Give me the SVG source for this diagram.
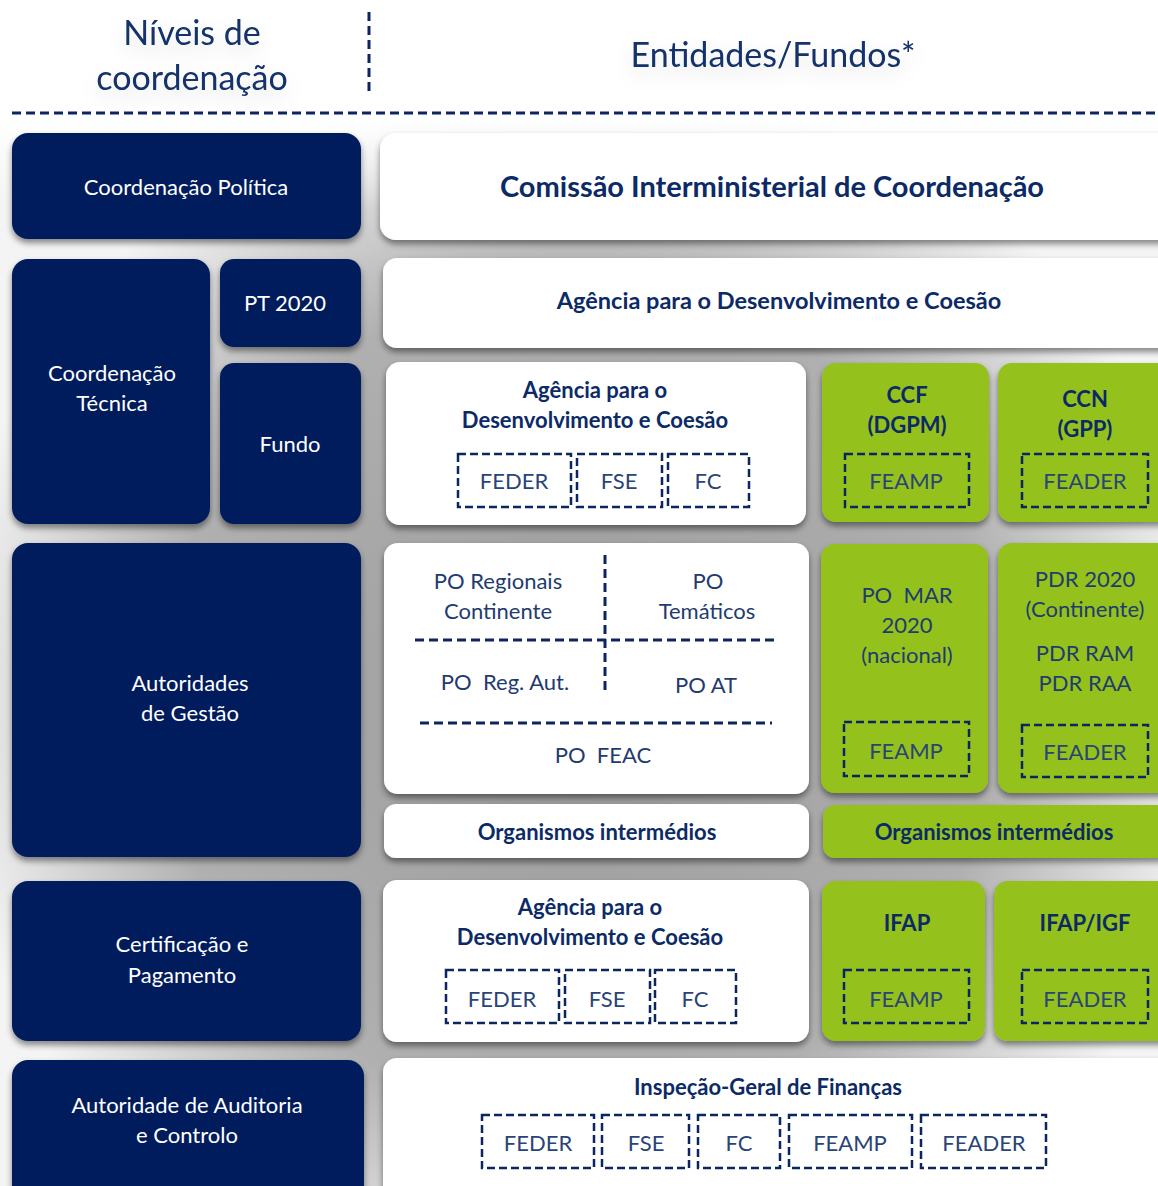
<svg xmlns="http://www.w3.org/2000/svg" width="1158" height="1186" viewBox="0 0 1158 1186">
<defs>
<radialGradient id="bg" cx="580" cy="700" r="640" gradientUnits="userSpaceOnUse">
<stop offset="0" stop-color="#9a9a9a"/>
<stop offset="0.65" stop-color="#b0b0b0"/>
<stop offset="1" stop-color="#f4f4f4"/>
</radialGradient>
<linearGradient id="fade" x1="0" y1="0" x2="0" y2="1">
<stop offset="0" stop-color="#ffffff" stop-opacity="1"/>
<stop offset="1" stop-color="#ffffff" stop-opacity="0"/>
</linearGradient>
<filter id="sh" x="-10%" y="-10%" width="120%" height="130%">
<feDropShadow dx="0" dy="4" stdDeviation="3" flood-color="#000" flood-opacity="0.45"/>
</filter>
<filter id="glow" x="-20%" y="-40%" width="140%" height="200%">
<feDropShadow dx="0" dy="8" stdDeviation="10" flood-color="#000" flood-opacity="0.12"/>
</filter>
<style>
.navy{fill:#001f5c;filter:url(#sh)}
.white{fill:#ffffff;filter:url(#sh)}
.green{fill:#94c11f;filter:url(#sh)}
.dash{fill:none;stroke:#0a2560;stroke-width:2.5;stroke-dasharray:8 4}
.dl{stroke:#0a2560;stroke-width:3;stroke-dasharray:9 5}
text{font-family:Lato,"Open Sans","Liberation Sans",sans-serif;text-anchor:middle;white-space:pre}
.wt{fill:#ffffff;font-size:22px}
.bt{fill:#0b2a66;font-size:22px;font-weight:bold}
.nt{fill:#1f3b70;font-size:22px}
.ft{fill:#2a4478;font-size:22px}
.hd{fill:#12306a;font-size:34px;filter:url(#glow)}
</style>
</defs>
<rect width="1158" height="1186" fill="#ffffff"/>
<rect x="0" y="118" width="1158" height="1068" fill="url(#bg)"/>
<rect x="0" y="118" width="1158" height="90" fill="url(#fade)"/>

<g id="header">
<text class="hd" x="192" y="45">Níveis de</text>
<text class="hd" x="192" y="90">coordenação</text>
<line class="dl" x1="369" y1="12" x2="369" y2="92"/>
<text class="hd" x="773" y="67">Entidades/Fundos*</text>
<line class="dl" x1="12" y1="113" x2="1158" y2="113"/>
</g>

<g id="coord-politica"><rect class="navy" x="12" y="133" width="349" height="106" rx="16"/><text class="wt" x="186" y="195">Coordenação Política</text></g>
<g id="comissao"><rect class="white" x="380" y="133" width="800" height="107" rx="16"/><text class="bt" x="772" y="197" style="font-size:29px">Comissão Interministerial de Coordenação</text></g>

<g id="coord-tecnica"><rect class="navy" x="12" y="259" width="198" height="265" rx="16"/><text class="wt" x="112" y="381">Coordenação</text><text class="wt" x="112" y="411">Técnica</text></g>
<g id="pt2020"><rect class="navy" x="220" y="259" width="141" height="88" rx="14"/><text class="wt" x="285" y="311">PT 2020</text></g>
<g id="fundo"><rect class="navy" x="220" y="363" width="141" height="161" rx="14"/><text class="wt" x="290" y="452">Fundo</text></g>
<g id="adc-top"><rect class="white" x="383" y="258" width="800" height="90" rx="14"/><text class="bt" x="779" y="309" style="font-size:23.5px">Agência para o Desenvolvimento e Coesão</text></g>

<g id="adc-fundo"><rect class="white" x="386" y="362" width="420" height="163" rx="14"/>
<text class="bt" x="595" y="398">Agência para o</text><text class="bt" x="595" y="428">Desenvolvimento e Coesão</text>
<rect class="dash" x="458" y="454" width="113" height="53"/><text class="ft" x="514" y="489">FEDER</text>
<rect class="dash" x="577" y="454" width="85" height="53"/><text class="ft" x="619" y="489">FSE</text>
<rect class="dash" x="668" y="454" width="81" height="53"/><text class="ft" x="708" y="489">FC</text></g>
<g id="ccf"><rect class="green" x="822" y="363" width="167" height="159" rx="14"/>
<text class="bt" x="907" y="403">CCF</text><text class="bt" x="907" y="433">(DGPM)</text>
<rect class="dash" x="845" y="454" width="124" height="53"/><text class="ft" x="906" y="489">FEAMP</text></g>
<g id="ccn"><rect class="green" x="998" y="363" width="180" height="159" rx="14"/>
<text class="bt" x="1085" y="407">CCN</text><text class="bt" x="1085" y="437">(GPP)</text>
<rect class="dash" x="1022" y="454" width="126" height="53"/><text class="ft" x="1085" y="489">FEADER</text></g>

<g id="aut-gestao"><rect class="navy" x="12" y="543" width="349" height="314" rx="16"/><text class="wt" x="190" y="691">Autoridades</text><text class="wt" x="190" y="721">de Gestão</text></g>
<g id="po"><rect class="white" x="384" y="543" width="425" height="251" rx="14"/>
<text class="nt" x="498" y="589">PO Regionais</text><text class="nt" x="498" y="619">Continente</text>
<text class="nt" x="708" y="589">PO</text><text class="nt" x="707" y="619">Temáticos</text>
<line class="dl" x1="605" y1="555" x2="605" y2="693"/>
<line class="dl" x1="415" y1="640" x2="775" y2="640"/>
<text class="nt" x="505" y="690">PO  Reg. Aut.</text><text class="nt" x="706" y="693">PO AT</text>
<line class="dl" x1="420" y1="723" x2="772" y2="723"/>
<text class="nt" x="603" y="763">PO  FEAC</text></g>
<g id="oi-white"><rect class="white" x="384" y="804" width="425" height="54" rx="12"/><text class="bt" x="597" y="840">Organismos intermédios</text></g>
<g id="pomar"><rect class="green" x="821" y="544" width="167" height="249" rx="14"/>
<text class="nt" x="907" y="603">PO  MAR</text><text class="nt" x="907" y="633">2020</text><text class="nt" x="907" y="663">(nacional)</text>
<rect class="dash" x="844" y="722" width="125" height="54"/><text class="ft" x="906" y="759">FEAMP</text></g>
<g id="pdr"><rect class="green" x="998" y="543" width="180" height="250" rx="14"/>
<text class="nt" x="1085" y="587">PDR 2020</text><text class="nt" x="1085" y="617">(Continente)</text>
<text class="nt" x="1085" y="661">PDR RAM</text><text class="nt" x="1085" y="691">PDR RAA</text>
<rect class="dash" x="1022" y="725" width="126" height="52"/><text class="ft" x="1085" y="760">FEADER</text></g>
<g id="oi-green"><rect class="green" x="823" y="805" width="355" height="53" rx="12"/><text class="bt" x="994" y="840">Organismos intermédios</text></g>

<g id="cert"><rect class="navy" x="12" y="881" width="349" height="160" rx="16"/><text class="wt" x="182" y="952">Certificação e</text><text class="wt" x="182" y="983">Pagamento</text></g>
<g id="adc-cert"><rect class="white" x="383" y="880" width="426" height="162" rx="14"/>
<text class="bt" x="590" y="915">Agência para o</text><text class="bt" x="590" y="945">Desenvolvimento e Coesão</text>
<rect class="dash" x="446" y="970" width="113" height="53"/><text class="ft" x="502" y="1007">FEDER</text>
<rect class="dash" x="565" y="970" width="85" height="53"/><text class="ft" x="607" y="1007">FSE</text>
<rect class="dash" x="655" y="970" width="81" height="53"/><text class="ft" x="695" y="1007">FC</text></g>
<g id="ifap"><rect class="green" x="822" y="881" width="163" height="160" rx="14"/>
<text class="bt" x="907" y="931">IFAP</text>
<rect class="dash" x="844" y="970" width="125" height="53"/><text class="ft" x="906" y="1007">FEAMP</text></g>
<g id="ifapigf"><rect class="green" x="994" y="881" width="184" height="160" rx="14"/>
<text class="bt" x="1085" y="931">IFAP/IGF</text>
<rect class="dash" x="1022" y="970" width="126" height="53"/><text class="ft" x="1085" y="1007">FEADER</text></g>

<g id="auditoria"><rect class="navy" x="12" y="1060" width="352" height="150" rx="16"/><text class="wt" x="187" y="1113">Autoridade de Auditoria</text><text class="wt" x="187" y="1143">e Controlo</text></g>
<g id="igf"><rect class="white" x="383" y="1058" width="800" height="150" rx="14"/>
<text class="bt" x="768" y="1095">Inspeção-Geral de Finanças</text>
<rect class="dash" x="482" y="1115" width="112" height="53"/><text class="ft" x="538" y="1151">FEDER</text>
<rect class="dash" x="602" y="1115" width="87" height="53"/><text class="ft" x="646" y="1151">FSE</text>
<rect class="dash" x="698" y="1115" width="82" height="53"/><text class="ft" x="739" y="1151">FC</text>
<rect class="dash" x="789" y="1115" width="123" height="53"/><text class="ft" x="850" y="1151">FEAMP</text>
<rect class="dash" x="921" y="1115" width="125" height="53"/><text class="ft" x="984" y="1151">FEADER</text></g>
<g id="connectors"></g>
</svg>
